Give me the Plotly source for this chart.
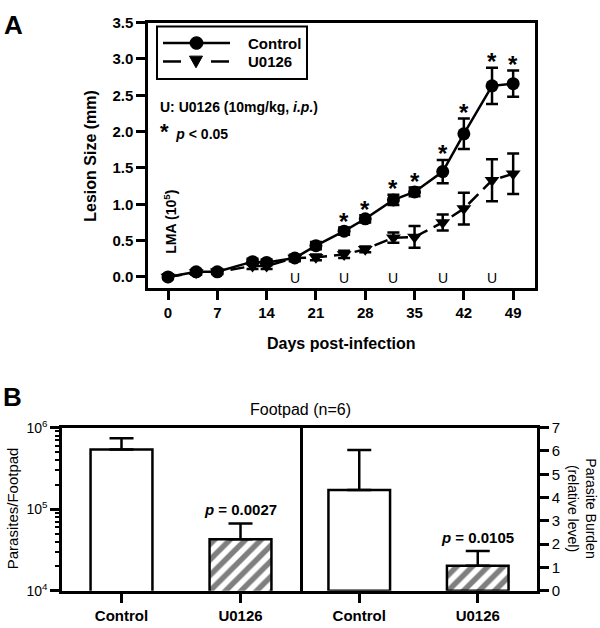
import math
import plotly.graph_objects as go

# ---------------- Panel A data ----------------
days = [0, 4, 7, 12, 14, 18, 21, 25, 28, 32, 35, 39, 42, 46, 49]
control_mean = [0.00, 0.07, 0.07, 0.21, 0.20, 0.26, 0.43, 0.63, 0.80, 1.06, 1.17, 1.45, 1.97, 2.63, 2.66]
control_err = [0.03, 0.03, 0.03, 0.04, 0.04, 0.04, 0.05, 0.05, 0.05, 0.07, 0.06, 0.16, 0.21, 0.25, 0.18]
u0126_mean = [0.00, 0.06, 0.07, 0.15, 0.15, 0.26, 0.27, 0.31, 0.38, 0.54, 0.55, 0.75, 0.94, 1.33, 1.42]
u0126_err = [0.03, 0.03, 0.03, 0.04, 0.04, 0.04, 0.04, 0.05, 0.04, 0.07, 0.15, 0.11, 0.22, 0.29, 0.28]
star_days = [25, 28, 32, 35, 39, 42, 46, 49]
u_days = [18, 25, 32, 39, 46]
x_ticks_A = [0, 7, 14, 21, 28, 35, 42, 49]
y_ticks_A = [0.0, 0.5, 1.0, 1.5, 2.0, 2.5, 3.0, 3.5]
series_names = ["Control", "U0126"]

# ---------------- Panel B data ----------------
groups = ["Control", "U0126"]
parasites_mean = [5.4e5, 4.3e4]
parasites_err = [2.0e5, 2.4e4]
burden_mean = [4.33, 1.08]
burden_err = [1.71, 0.63]
p_left = "<i>p</i> = 0.0027"
p_right = "<i>p</i> = 0.0105"

W, H = 600, 628
def px(x):
    return x / W
def py(y):
    return 1 - y / H

FONT = "Liberation Sans, Arial, sans-serif"
LW = 2.5

fig = go.Figure()

fig.add_trace(go.Scatter(
    x=days, y=control_mean, name=series_names[0], mode="lines+markers", showlegend=False,
    line=dict(color="black", width=LW),
    marker=dict(symbol="circle", size=13, color="black"),
    error_y=dict(type="data", array=control_err, color="black", thickness=LW, width=6),
    xaxis="x", yaxis="y"))
fig.add_trace(go.Scatter(
    x=days, y=u0126_mean, name=series_names[1], mode="lines+markers", showlegend=False,
    line=dict(color="black", width=LW, dash="14px,7px"),
    marker=dict(symbol="triangle-down", size=13, color="black"),
    error_y=dict(type="data", array=u0126_err, color="black", thickness=LW, width=6),
    xaxis="x", yaxis="y"))

pattern = dict(shape=["", "/"], fgcolor="black", bgcolor="white", size=11, solidity=0.5)
fig.add_trace(go.Bar(
    x=groups, y=parasites_mean, width=0.52, showlegend=False,
    marker=dict(color="white", line=dict(color="black", width=LW), pattern=pattern),
    error_y=dict(type="data", array=parasites_err, arrayminus=[0, 0], symmetric=False,
                 color="black", thickness=LW, width=12),
    xaxis="x2", yaxis="y2"))
fig.add_trace(go.Bar(
    x=groups, y=burden_mean, width=0.52, showlegend=False,
    marker=dict(color="white", line=dict(color="black", width=LW), pattern=pattern),
    error_y=dict(type="data", array=burden_err, arrayminus=[0, 0], symmetric=False,
                 color="black", thickness=LW, width=12),
    xaxis="x3", yaxis="y3"))

bold15 = dict(family=FONT, size=15, color="black", weight="bold")
reg15 = dict(family=FONT, size=15, color="black")

def pap(x, y, text, font, angle=0, xa="center", ya="middle"):
    return dict(x=px(x), y=py(y), xref="paper", yref="paper", text=text, textangle=angle,
                showarrow=False, xanchor=xa, yanchor=ya, font=font)

annotations = []
for d in star_days:
    i = days.index(d)
    annotations.append(dict(x=d, y=control_mean[i] + control_err[i], xref="x", yref="y",
                            text="*", showarrow=False, xanchor="center", yanchor="middle", yshift=6,
                            font=dict(family=FONT, size=24, color="black", weight="bold")))
for d in u_days:
    annotations.append(dict(x=d, y=0, xref="x", yref="y", text="U", showarrow=False,
                            xanchor="center", yanchor="middle", yshift=-1,
                            font=dict(family=FONT, size=14, color="black")))
annotations += [
    dict(x=0, y=0.76, xref="x", yref="y", text="LMA (10<sup>5</sup>)", textangle=-90,
         showarrow=False, xanchor="center", yanchor="middle", xshift=2,
         font=dict(family=FONT, size=14, color="black", weight="bold")),
    pap(246, 34, series_names[0], bold15, xa="left"),
    pap(246, 53, series_names[1], bold15, xa="left"),
    pap(158, 100, "U: U0126 (10mg/kg, <i>i.p.</i>)",
        dict(family=FONT, size=14, color="black", weight="bold"), xa="left"),
    pap(158, 125, "<span style='font-size:22px'>*</span>  <i>p</i> < 0.05",
        dict(family=FONT, size=14, color="black", weight="bold"), xa="left"),
    pap(91, 150, "Lesion Size (mm)", dict(family=FONT, size=16, color="black", weight="bold"), angle=-90),
    pap(341, 343, "Days post-infection", dict(family=FONT, size=16, color="black", weight="bold")),
    pap(13, 15, "A", dict(family=FONT, size=26, color="black", weight="bold")),
    pap(12, 398, "B", dict(family=FONT, size=26, color="black", weight="bold")),
    pap(300, 411, "Footpad (n=6)", dict(family=FONT, size=16, color="black")),
    pap(12, 513, "Parasites/Footpad", reg15, angle=-90),
    pap(582, 513, "Parasite Burden<br>(relative level)", dict(family=FONT, size=14, color="black"), angle=90),
    dict(x=1, y=math.log10(parasites_mean[1] + parasites_err[1]), xref="x2", yref="y2",
         xanchor="center", yanchor="bottom", yshift=3, text=p_left, showarrow=False, font=bold15),
    dict(x=1, y=burden_mean[1] + burden_err[1], xref="x3", yref="y3",
         xanchor="center", yanchor="bottom", yshift=3, text=p_right, showarrow=False, font=bold15),
]

def pline(x0, y0, x1, y1, w=LW):
    return dict(type="line", xref="paper", yref="paper", x0=px(x0), y0=py(y0), x1=px(x1), y1=py(y1),
                line=dict(color="black", width=w))
shapes = [
    dict(type="rect", xref="paper", yref="paper", x0=px(157), y0=py(71), x1=px(307), y1=py(17),
         line=dict(color="black", width=2), fillcolor="white", layer="below"),
    pline(163, 34, 230, 34),
    dict(type="circle", xref="paper", yref="paper", x0=px(190), x1=px(203), y0=py(40.5), y1=py(27.5),
         line=dict(color="black", width=1), fillcolor="black"),
    pline(163, 53, 181, 53),
    pline(211, 53, 229, 53),
    dict(type="path", xref="paper", yref="paper",
         path="M {} {} L {} {} L {} {} Z".format(px(189.5), py(47.5), px(202.5), py(47.5), px(196), py(59.5)),
         line=dict(color="black", width=1), fillcolor="black"),
]

axis_common = dict(showline=True, linecolor="black", linewidth=LW, ticks="outside",
                   tickcolor="black", tickwidth=LW, ticklen=9, showgrid=False, zeroline=False)

fig.update_layout(
    width=W, height=H, margin=dict(l=0, r=0, t=0, b=0),
    paper_bgcolor="white", plot_bgcolor="white",
    font=dict(family=FONT, color="black"),
    showlegend=False,
    xaxis=dict(domain=[px(148), px(535)], range=[-2.84, 52.1], tickvals=x_ticks_A,
               mirror=True, anchor="y", tickfont=bold15, **axis_common),
    yaxis=dict(domain=[py(286), py(13)], range=[-0.15, 3.5], tickvals=y_ticks_A,
               tickformat=".1f", mirror=True, anchor="x", tickfont=bold15, **axis_common),
    xaxis2=dict(domain=[px(62), px(300)], range=[-0.5, 1.5], type="category", mirror=True,
                anchor="y2", tickfont=bold15, **axis_common),
    yaxis2=dict(domain=[py(598), py(430)], type="log", range=[4, 6], mirror=True, anchor="x2",
                tickvals=[1e4, 1e5, 1e6],
                ticktext=["10<sup>4</sup>", "10<sup>5</sup>", "10<sup>6</sup>"],
                tickfont=dict(family=FONT, size=14, color="black"),
                minor=dict(ticks="outside", ticklen=4, tickwidth=1.5, tickcolor="black",
                           tickvals=[k * 1e4 for k in range(2, 10)] + [k * 1e5 for k in range(2, 10)]),
                **axis_common),
    xaxis3=dict(domain=[px(300), px(537)], range=[-0.5, 1.5], type="category", mirror=True,
                anchor="y3", tickfont=bold15, **axis_common),
    yaxis3=dict(domain=[py(598), py(430)], range=[0, 7], side="right", anchor="x3",
                tickvals=[0, 1, 2, 3, 4, 5, 6, 7], tickfont=reg15, **axis_common),
    annotations=annotations,
    shapes=shapes,
)

fig.write_html("out.html", config={"displayModeBar": False},
               post_script="document.body.style.margin='0';")
